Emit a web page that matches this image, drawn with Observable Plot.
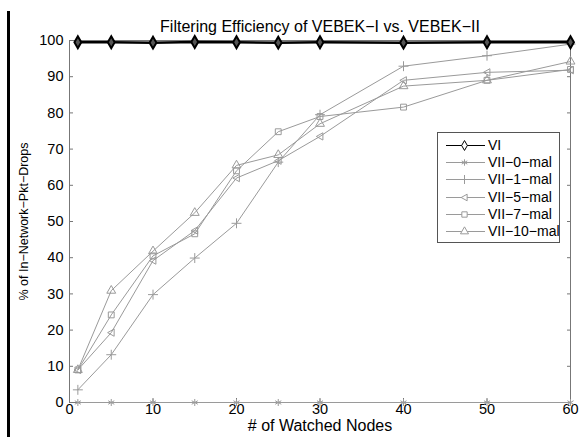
<!DOCTYPE html>
<html>
<head>
<meta charset="utf-8">
<script src="https://cdn.jsdelivr.net/npm/d3@7"></script>
<script src="https://cdn.jsdelivr.net/npm/@observablehq/plot@0.6"></script>
<style>
  body { margin: 0; background: #fff; }
  #wrap { position: relative; width: 585px; height: 437px; font-family: "Liberation Sans", Arial, sans-serif; }
  #bar { position: absolute; left: 7px; top: 11px; width: 3px; height: 426px; background: #000; }
  #legend { position: absolute; left: 437px; top: 132px; width: 121px; height: 109px; border: 1px solid #555; background: #fff; font-size: 14px; }
  .row { position: absolute; left: 0; height: 17px; width: 121px; }
  .row svg { position: absolute; left: 7px; top: 0; }
  .row span { position: absolute; left: 50px; top: 0; line-height: 17px; color: #000; white-space: nowrap; }
</style>
</head>
<body>
<div id="wrap"><div id="bar"></div></div>
<script>
const title = "Filtering Efficiency of VEBEK\u2212I vs. VEBEK\u2212II";
const xLabel = "# of Watched Nodes";
const yLabel = "% of In\u2212Network\u2212Pkt\u2212Drops";
const nodes = [1, 5, 10, 15, 20, 25, 30, 40, 50, 60];
const xTicks = [0, 10, 20, 30, 40, 50, 60];
const yTicks = [0, 10, 20, 30, 40, 50, 60, 70, 80, 90, 100];
const seriesNames = ["VI", "VII\u22120\u2212mal", "VII\u22121\u2212mal", "VII\u22125\u2212mal", "VII\u22127\u2212mal", "VII\u221210\u2212mal"];
const vI     = [99.5, 99.5, 99.4, 99.6, 99.5, 99.4, 99.5, 99.4, 99.5, 99.5];
const vII0   = [0, 0, 0, 0, 0, 0, 0, 0, 0, 0];
const vII1   = [3.5, 13.2, 29.8, 39.9, 49.5, 66.4, 79.5, 92.9, 95.8, 99];
const vII5   = [9, 19.3, 39.2, 47.5, 62, 66.8, 73.5, 89, 91.2, 91.8];
const vII7   = [9, 24.2, 40.5, 46.6, 64, 74.8, 79, 81.6, 89, 92];
const vII10  = [9, 30.9, 41.8, 52.4, 65.5, 68.4, 77, 87.4, 89, 94.2];

const triLeft = { draw(ctx, size) {
  const r = Math.sqrt(size / Math.PI) * 1.1;
  ctx.moveTo(-r, 0); ctx.lineTo(r * 0.8, -r); ctx.lineTo(r * 0.8, r); ctx.closePath();
}};
const symbols = [d3.symbolDiamond, d3.symbolAsterisk, d3.symbolPlus, triLeft, d3.symbolSquare, d3.symbolTriangle];
const allValues = [vI, vII0, vII1, vII5, vII7, vII10];
const gray = "#9a9a9a";

const rows = [];
allValues.forEach((vals, s) => vals.forEach((v, i) => rows.push({series: seriesNames[s], s, x: nodes[i], y: v})));

const grayRows = rows.filter(d => d.s > 0);
const blackRows = rows.filter(d => d.s === 0);

const chart = Plot.plot({
  width: 585, height: 437,
  marginLeft: 69, marginRight: 15, marginTop: 40, marginBottom: 35,
  style: { fontFamily: "Liberation Sans, Arial, sans-serif", fontSize: "14px", background: "#fff", color: "#000" },
  x: { domain: [0, 60], ticks: xTicks },
  y: { domain: [0, 100], ticks: yTicks },
  marks: [
    Plot.frame({ stroke: "#777" }),
    Plot.axisY({ ticks: yTicks, anchor: "left", tickSize: 4, dx: 4, fill: "none", stroke: "#777", label: null }),
    Plot.axisY({ ticks: yTicks, anchor: "right", tickSize: 4, dx: -4, fill: "none", stroke: "#777", label: null }),
    Plot.axisX({ ticks: xTicks, anchor: "bottom", tickSize: 4, dy: -4, fill: "none", stroke: "#777", label: null }),
    Plot.axisX({ ticks: xTicks, anchor: "top", tickSize: 4, dy: 4, fill: "none", stroke: "#777", label: null }),
    Plot.axisY({ ticks: yTicks, anchor: "left", tickSize: 0, tickPadding: 6, label: null, fontSize: 14.5 }),
    Plot.axisX({ ticks: xTicks, anchor: "bottom", tickSize: 0, tickPadding: 1, label: null, fontSize: 14.5 }),
    Plot.line(grayRows, { x: "x", y: "y", z: "series", stroke: gray, strokeWidth: 1 }),
    Plot.dot(grayRows, { x: "x", y: "y", symbol: d => symbols[d.s], r: 3.3, stroke: gray, fill: "none", strokeWidth: 1 }),
    Plot.line(blackRows, { x: "x", y: "y", stroke: "#000", strokeWidth: 2.5 }),
    Plot.dot(blackRows, { x: "x", y: "y", symbol: d => symbols[d.s], r: 3.6, stroke: "#000", fill: "#555", strokeWidth: 2 }),
    Plot.text([title], { frameAnchor: "top", dy: -20, fontSize: 16, fill: "#000" }),
    Plot.text([xLabel], { frameAnchor: "bottom", dy: 28, fontSize: 16, fill: "#000" }),
    Plot.text([yLabel], { frameAnchor: "left", textAnchor: "middle", dx: -46, rotate: -90, fontSize: 12.5, fill: "#000" })
  ]
});
const wrap = document.getElementById("wrap");
wrap.insertBefore(chart, wrap.firstChild);
chart.style.position = "absolute"; chart.style.left = "0"; chart.style.top = "0";

const legend = document.createElement("div");
legend.id = "legend";
seriesNames.forEach((name, s) => {
  const row = document.createElement("div");
  row.className = "row";
  row.style.top = (4 + s * 17.2) + "px";
  const svg = d3.create("svg").attr("width", 42).attr("height", 17);
  const col = s === 0 ? "#000" : gray;
  svg.append("line").attr("x1", 1).attr("x2", 40).attr("y1", 8.5).attr("y2", 8.5).attr("stroke", col).attr("stroke-width", 1);
  svg.append("path").attr("d", d3.symbol(symbols[s], 3.0 * 3.0 * Math.PI)()).attr("transform", "translate(19.5,8.5)")
    .attr("fill", "#fff").attr("stroke", col).attr("stroke-width", 1);
  row.appendChild(svg.node());
  const sp = document.createElement("span");
  sp.textContent = name;
  row.appendChild(sp);
  legend.appendChild(row);
});
wrap.appendChild(legend);
</script>
</body>
</html>
